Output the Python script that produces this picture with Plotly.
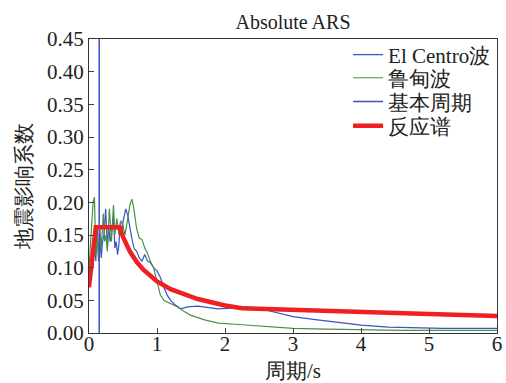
import plotly.graph_objects as go

# El Centro wave response spectrum
ec_T = [0.0, 0.02, 0.04, 0.06, 0.08, 0.10, 0.12, 0.14, 0.16, 0.18, 0.20, 0.22, 0.245, 0.27, 0.29, 0.31,
        0.33, 0.36, 0.38, 0.40, 0.42, 0.44, 0.46, 0.48, 0.50, 0.54, 0.57, 0.60, 0.63, 0.66, 0.70, 0.74,
        0.78, 0.82, 0.86, 0.90, 0.95, 1.00, 1.05, 1.10, 1.15, 1.20, 1.28, 1.35, 1.45, 1.60, 1.75, 1.90,
        2.10, 2.30, 2.45, 2.60, 2.80, 3.00, 3.30, 3.60, 4.00, 4.40, 4.80, 5.20, 6.00]
ec_A = [0.070, 0.085, 0.120, 0.100, 0.150, 0.110, 0.160, 0.120, 0.145, 0.115, 0.140, 0.150, 0.190, 0.130,
        0.165, 0.140, 0.150, 0.180, 0.130, 0.140, 0.120, 0.135, 0.170, 0.150, 0.170, 0.190, 0.180, 0.160,
        0.145, 0.130, 0.125, 0.115, 0.110, 0.120, 0.110, 0.108, 0.100, 0.095, 0.085, 0.070, 0.058, 0.050,
        0.042, 0.037, 0.040, 0.041, 0.039, 0.037, 0.038, 0.040, 0.039, 0.035, 0.030, 0.025, 0.021, 0.017,
        0.012, 0.009, 0.008, 0.007, 0.007]

# Ludian wave response spectrum
ld_T = [0.0, 0.03, 0.06, 0.08, 0.10, 0.12, 0.14, 0.16, 0.18, 0.21, 0.23, 0.25, 0.27, 0.30, 0.33, 0.36,
        0.38, 0.41, 0.44, 0.47, 0.50, 0.53, 0.57, 0.60, 0.63, 0.66, 0.70, 0.74, 0.78, 0.82, 0.86, 0.90,
        0.95, 1.00, 1.05, 1.10, 1.20, 1.30, 1.40, 1.50, 1.70, 1.90, 2.20, 2.60, 3.00, 3.50, 4.00, 4.60,
        5.20, 6.00]
ld_A = [0.100, 0.150, 0.200, 0.208, 0.120, 0.150, 0.110, 0.160, 0.130, 0.183, 0.140, 0.150, 0.125,
        0.190, 0.140, 0.196, 0.150, 0.175, 0.150, 0.172, 0.165, 0.150, 0.180, 0.195, 0.205, 0.190, 0.160,
        0.145, 0.143, 0.130, 0.122, 0.110, 0.100, 0.080, 0.058, 0.050, 0.045, 0.040, 0.033, 0.027, 0.020,
        0.015, 0.013, 0.010, 0.007, 0.006, 0.005, 0.004, 0.004, 0.004]

# Fundamental period
T1 = 0.15
T1_y = [0.0, 0.45]

# Code response spectrum
rs_T = [0.0, 0.10, 0.45, 0.50, 0.60, 0.70, 0.80, 0.90, 1.00, 1.20, 1.40, 1.60, 1.80, 2.00, 2.25,
        3.00, 4.00, 5.00, 6.00]
rs_A = [0.070, 0.162, 0.162, 0.147, 0.125, 0.109, 0.097, 0.087, 0.079, 0.067, 0.059, 0.052, 0.047,
        0.042, 0.038, 0.036, 0.032, 0.029, 0.026]

x_ticks = [0, 1, 2, 3, 4, 5, 6]
y_ticks = [0.00, 0.05, 0.10, 0.15, 0.20, 0.25, 0.30, 0.35, 0.40, 0.45]

FONT = "Liberation Serif"
FS = 21

fig = go.Figure()
fig.add_trace(go.Scatter(x=ec_T, y=ec_A, mode="lines", name="El Centro波", legend="legend",
                         showlegend=True, line=dict(color="#3f51c6", width=1.2)))
fig.add_trace(go.Scatter(x=ld_T, y=ld_A, mode="lines", name="鲁甸波", legend="legend2",
                         showlegend=True, line=dict(color="#4a8f4a", width=1.2)))
fig.add_trace(go.Scatter(x=[T1, T1], y=T1_y, mode="lines", name="基本周期", legend="legend3",
                         showlegend=True, line=dict(color="#3f51c6", width=1.5)))
fig.add_trace(go.Scatter(x=rs_T, y=rs_A, mode="lines", name="反应谱", legend="legend4",
                         showlegend=True, line=dict(color="#ee2020", width=4.5)))

LEG_X = 0.635
LEG_Y = [0.9456, 0.867, 0.786, 0.704]


def leg(y):
    return dict(x=LEG_X, y=y, xanchor="left", yanchor="middle", bgcolor="rgba(0,0,0,0)",
                borderwidth=0, font=dict(size=FS, family=FONT), itemwidth=30)


fig.update_layout(
    width=506, height=383,
    showlegend=True,
    margin=dict(l=89, r=9, t=39, b=50),
    paper_bgcolor="white", plot_bgcolor="white",
    font=dict(family=FONT, color="#222", size=FS),
    title=dict(text="Absolute ARS", x=293 / 506, xanchor="center", y=1 - 22 / 383, yanchor="middle",
               font=dict(size=20, family=FONT)),
    legend=leg(LEG_Y[0]), legend2=leg(LEG_Y[1]), legend3=leg(LEG_Y[2]), legend4=leg(LEG_Y[3]),
    xaxis=dict(range=[0, 6], tickvals=x_ticks, ticks="inside", ticklen=5, showgrid=False,
               zeroline=False, showline=True, linecolor="#333", linewidth=1, mirror=True,
               automargin=False, ticklabelstandoff=-8, tickfont=dict(size=FS, family=FONT),
               title=dict(text="周期/s", font=dict(size=FS, family=FONT), standoff=10)),
    yaxis=dict(range=[0, 0.45], tickvals=y_ticks, tickformat=".2f", ticks="inside", ticklen=5,
               showgrid=False, zeroline=False, showline=True, linecolor="#333", linewidth=1,
               mirror=True, automargin=False, tickfont=dict(size=FS, family=FONT),
               title=dict(text="地震影响系数", font=dict(size=FS, family=FONT), standoff=9)),
)

fig.write_html("out.html")
